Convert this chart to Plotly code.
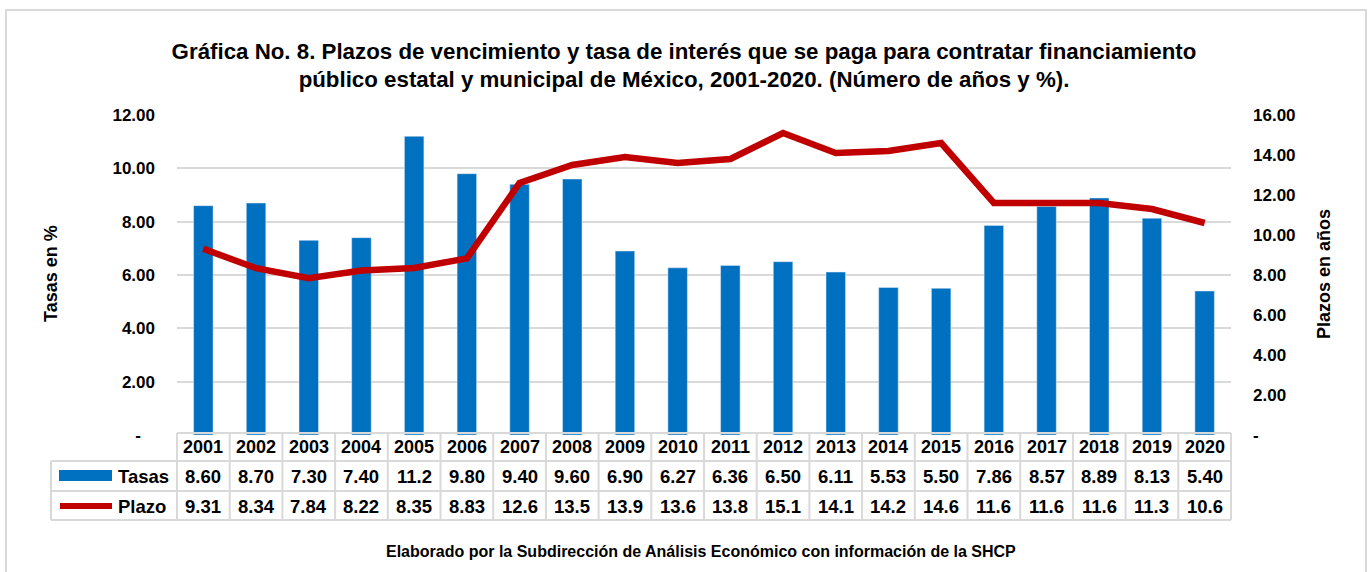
import plotly.graph_objects as go

years = ["2001", "2002", "2003", "2004", "2005", "2006", "2007", "2008", "2009", "2010",
         "2011", "2012", "2013", "2014", "2015", "2016", "2017", "2018", "2019", "2020"]
tasas = [8.60, 8.70, 7.30, 7.40, 11.2, 9.80, 9.40, 9.60, 6.90, 6.27,
         6.36, 6.50, 6.11, 5.53, 5.50, 7.86, 8.57, 8.89, 8.13, 5.40]
plazo = [9.31, 8.34, 7.84, 8.22, 8.35, 8.83, 12.6, 13.5, 13.9, 13.6,
         13.8, 15.1, 14.1, 14.2, 14.6, 11.6, 11.6, 11.6, 11.3, 10.6]
tasas_lbl = ["8.60", "8.70", "7.30", "7.40", "11.2", "9.80", "9.40", "9.60", "6.90", "6.27",
             "6.36", "6.50", "6.11", "5.53", "5.50", "7.86", "8.57", "8.89", "8.13", "5.40"]
plazo_lbl = ["9.31", "8.34", "7.84", "8.22", "8.35", "8.83", "12.6", "13.5", "13.9", "13.6",
             "13.8", "15.1", "14.1", "14.2", "14.6", "11.6", "11.6", "11.6", "11.3", "10.6"]
left_ticks = [0, 2, 4, 6, 8, 10, 12]
left_ticktext = ["-\u00a0\u00a0\u00a0", "2.00", "4.00", "6.00", "8.00", "10.00", "12.00"]
right_ticks = [0, 2, 4, 6, 8, 10, 12, 14, 16]
right_ticktext = ["-", "2.00", "4.00", "6.00", "8.00", "10.00", "12.00", "14.00", "16.00"]

W, H = 1368, 572
L, R, T, B = 177, 1231, 115, 435
FONT = "Liberation Sans, Arial, sans-serif"
BLUE = "#0070C0"
RED = "#C00000"
GRID = "#D9D9D9"


def px_x(p):
    return (p - L) / (R - L)


def px_y(p):
    return (B - p) / (B - T)


idx = list(range(len(years)))

fig = go.Figure()
fig.add_trace(go.Bar(x=idx, y=tasas, name="Tasas", marker_color=BLUE, width=0.37,
                     yaxis="y", showlegend=False))
fig.add_trace(go.Scatter(x=idx, y=plazo, name="Plazo", mode="lines",
                         line=dict(color=RED, width=6.5), yaxis="y2", showlegend=False))

shapes = []
annotations = []

# outer border
shapes.append(dict(type="rect", xref="paper", yref="paper",
                   x0=px_x(6), x1=px_x(1366), y0=px_y(600), y1=px_y(10),
                   line=dict(color="#D9D9D9", width=2), layer="below"))

# table geometry
rows_y = [433, 461, 491, 520]
col_w = (R - L) / len(years)
lw = dict(color=GRID, width=2)
shapes.append(dict(type="line", xref="paper", yref="paper", x0=0, x1=1,
                   y0=px_y(rows_y[0]), y1=px_y(rows_y[0]), line=lw))
for ry in rows_y[1:]:
    shapes.append(dict(type="line", xref="paper", yref="paper", x0=px_x(51), x1=1,
                       y0=px_y(ry), y1=px_y(ry), line=lw))
for i in range(len(years) + 1):
    xp = px_x(L + i * col_w)
    shapes.append(dict(type="line", xref="paper", yref="paper", x0=xp, x1=xp,
                       y0=px_y(rows_y[0]), y1=px_y(rows_y[3]), line=lw))
shapes.append(dict(type="line", xref="paper", yref="paper", x0=px_x(51), x1=px_x(51),
                   y0=px_y(rows_y[1]), y1=px_y(rows_y[3]), line=lw))

cell_font = dict(family=FONT, size=18.5, color="#000000")
year_font = dict(family=FONT, size=18, color="#000000")
for i, yr in enumerate(years):
    cx = px_x(L + (i + 0.5) * col_w)
    for text, ry, f in ((yr, 447, year_font), (tasas_lbl[i], 476, cell_font),
                        (plazo_lbl[i], 506, cell_font)):
        annotations.append(dict(x=cx, y=px_y(ry), xref="paper", yref="paper",
                                text="<b>%s</b>" % text, showarrow=False,
                                font=f, xanchor="center", yanchor="middle"))

# legend keys inside table
shapes.append(dict(type="rect", xref="paper", yref="paper",
                   x0=px_x(59), x1=px_x(112), y0=px_y(481), y1=px_y(470),
                   fillcolor=BLUE, line=dict(width=0)))
shapes.append(dict(type="line", xref="paper", yref="paper",
                   x0=px_x(60), x1=px_x(112), y0=px_y(506), y1=px_y(506),
                   line=dict(color=RED, width=6)))
annotations.append(dict(x=px_x(116), y=px_y(476), xref="paper", yref="paper",
                        text="<b>Tasas</b>", showarrow=False, font=cell_font,
                        xanchor="left", yanchor="middle"))
annotations.append(dict(x=px_x(116), y=px_y(506), xref="paper", yref="paper",
                        text="<b>Plazo</b>", showarrow=False, font=cell_font,
                        xanchor="left", yanchor="middle"))

# axis titles
annotations.append(dict(x=px_x(51), y=px_y(274), xref="paper", yref="paper",
                        text="<b>Tasas en %</b>", showarrow=False, textangle=-90,
                        font=dict(family=FONT, size=18, color="#000"),
                        xanchor="center", yanchor="middle"))
annotations.append(dict(x=px_x(1324), y=px_y(274), xref="paper", yref="paper",
                        text="<b>Plazos en años</b>", showarrow=False, textangle=-90,
                        font=dict(family=FONT, size=18, color="#000"),
                        xanchor="center", yanchor="middle"))

# footer
annotations.append(dict(x=px_x(701), y=px_y(551), xref="paper", yref="paper",
                        text="<b>Elaborado por la Subdirección de Análisis Económico con información de la SHCP</b>",
                        showarrow=False, font=dict(family=FONT, size=16, color="#000"),
                        xanchor="center", yanchor="middle"))

fig.update_layout(
    width=W, height=H,
    margin=dict(l=L, r=W - R, t=T, b=H - B, autoexpand=False),
    paper_bgcolor="white", plot_bgcolor="white",
    font=dict(family=FONT, color="#000"),
    title=dict(text="<b>Gráfica No. 8. Plazos de vencimiento y tasa de interés que se paga para contratar financiamiento<br>público estatal y municipal de México, 2001-2020. (Número de años y %).</b>",
               x=0.5, xref="container", xanchor="center", y=1 - 58.5 / H, yanchor="middle",
               font=dict(family=FONT, size=22.3, color="#000")),
    xaxis=dict(range=[-0.5, len(years) - 0.5], showticklabels=False, showgrid=False,
               zeroline=False, showline=False, ticks=""),
    yaxis=dict(range=[0, 12], tickvals=left_ticks,
               ticktext=["<b>%s</b>" % t for t in left_ticktext],
               showgrid=True, gridcolor=GRID, gridwidth=1.5, zeroline=False,
               showline=False, ticks="", ticklabelstandoff=21,
               tickfont=dict(family=FONT, size=17, color="#000")),
    yaxis2=dict(range=[0, 16], tickvals=right_ticks,
                ticktext=["<b>%s</b>" % t for t in right_ticktext],
                overlaying="y", side="right", showgrid=False, zeroline=False,
                showline=False, ticks="", ticklabelstandoff=21,
                tickfont=dict(family=FONT, size=17, color="#000")),
    shapes=shapes,
    annotations=annotations,
)

fig.write_html("out.html", config={"displayModeBar": False},
               post_script="document.body.style.margin='0';document.body.style.overflow='hidden';")
